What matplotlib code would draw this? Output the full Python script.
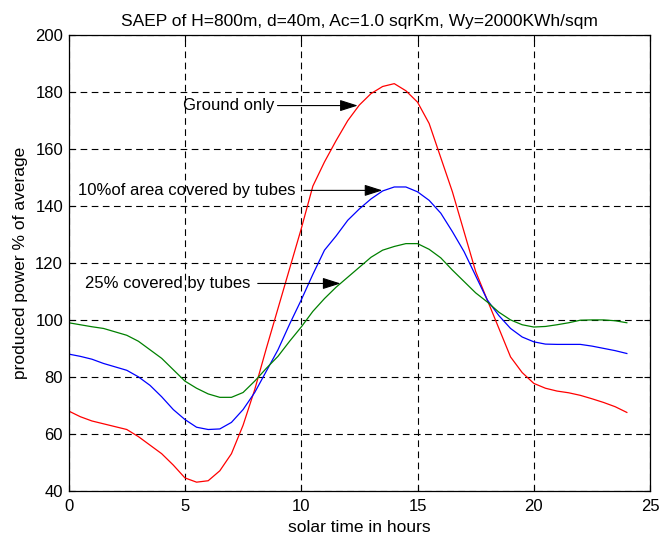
import numpy as np
import matplotlib
matplotlib.use('Agg')
import matplotlib.pyplot as plt

plt.rcParams['font.family'] = ['Liberation Sans', 'DejaVu Sans']

# solar time, half-hour steps
hours = np.arange(0, 24.5, 0.5)

ground_only = [68, 66, 64.5, 63.5, 62.5, 61.5, 59, 56, 53, 49,
               44.5, 43, 43.5, 47, 53, 63, 75.5, 90, 104, 118,
               132, 147, 155.5, 163, 170, 175.5, 179.5, 182, 183, 180.5,
               176.5, 169, 157, 145, 131, 117, 107, 97, 87, 81.5,
               77.7, 76, 75, 74.4, 73.5, 72.3, 71, 69.5, 67.5]
tubes_10 = [88, 87.2, 86.2, 84.7, 83.5, 82.3, 80, 77, 73, 68.5,
            65, 62.3, 61.5, 61.7, 64, 68.5, 74.5, 82, 89.5, 98.5,
            107, 116, 124.5, 129.5, 135, 139, 142.5, 145.3, 146.7, 146.7,
            145, 142, 137.5, 131, 124, 115.5, 107, 101.5, 97, 94,
            92.3, 91.5, 91.4, 91.4, 91.4, 90.8, 90, 89.2, 88.2]
tubes_25 = [99, 98.3, 97.6, 97, 95.8, 94.6, 92.5, 89.5, 86.5, 82.5,
            78.5, 76, 74, 72.8, 72.8, 74.5, 78.5, 83, 87.2, 92.5,
            97.5, 103, 107.5, 111.5, 115, 118.5, 122, 124.5, 125.8, 126.8,
            126.8, 124.8, 121.8, 117.5, 113.5, 109.5, 106.3, 102.7, 100, 98.3,
            97.5, 97.7, 98.3, 99, 99.9, 100, 100, 99.7, 99]

x_ticks = [0, 5, 10, 15, 20, 25]
y_ticks = [40, 60, 80, 100, 120, 140, 160, 180, 200]

fig = plt.figure(figsize=(6.6, 5.39), dpi=100, facecolor='white')
ax = fig.add_axes([0.104, 0.0896, 0.881, 0.845])

ax.plot(hours, ground_only, color='#ff0000', lw=0.9)
ax.plot(hours, tubes_10, color='#0000ff', lw=0.9)
ax.plot(hours, tubes_25, color='#008000', lw=0.9)

ax.set_xlim(0, 25)
ax.set_ylim(40, 200)
ax.set_xticks(x_ticks)
ax.set_yticks(y_ticks)
ax.tick_params(direction='in', length=4, width=0.8, top=True, right=True,
               labelsize=12, colors='black')
ax.tick_params(axis='x', pad=6)
ax.tick_params(axis='y', pad=4)
for s in ax.spines.values():
    s.set_linewidth(0.9)

ax.grid(True, color='black', linestyle=(0, (6, 4)), linewidth=0.8)

ax.set_title('SAEP of H=800m, d=40m, Ac=1.0 sqrKm, Wy=2000KWh/sqm', fontsize=12.5, pad=7)
ax.set_xlabel('solar time in hours', fontsize=12.5, labelpad=4)
ax.set_ylabel('produced power % of average', fontsize=12.5, labelpad=5)

# annotations with arrows
arrow = dict(arrowstyle='-|>,head_length=1.1,head_width=0.35', color='black', lw=0.8,
             shrinkA=0, shrinkB=0)
ax.annotate('', xy=(12.43, 175.3), xytext=(8.98, 175.3), arrowprops=arrow)
ax.text(4.93, 175.3, 'Ground only', fontsize=12, va='center', ha='left')
ax.annotate('', xy=(13.49, 145.5), xytext=(10.11, 145.5), arrowprops=arrow)
ax.text(0.41, 145.5, '10%of area covered by tubes', fontsize=12, va='center', ha='left')
ax.annotate('', xy=(11.69, 112.8), xytext=(8.13, 112.8), arrowprops=arrow)
ax.text(0.70, 112.8, '25% covered by tubes', fontsize=12, va='center', ha='left')

fig.savefig('out.png', dpi=100, facecolor=fig.get_facecolor())
